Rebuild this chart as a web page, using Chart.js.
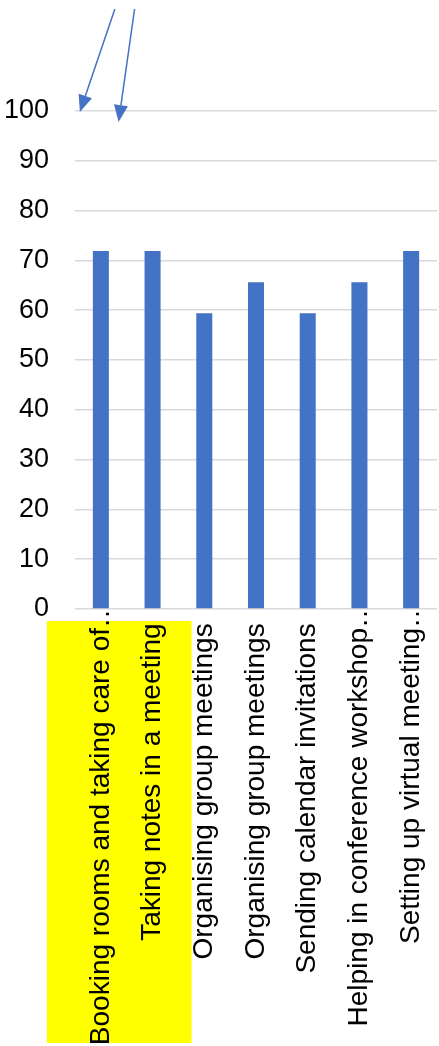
<!DOCTYPE html>
<html>
<head>
<meta charset="utf-8">
<script src="https://cdn.jsdelivr.net/npm/chart.js@4/dist/chart.umd.min.js"></script>
<style>
  html, body { margin: 0; padding: 0; background: #fff; }
  #wrap { width: 439px; height: 1046px; position: relative; }
</style>
</head>
<body>
<div id="wrap"><canvas id="c"></canvas></div>
<script>
const categories = [
  'Booking rooms and taking care of…',
  'Taking notes in a meeting',
  'Organising group meetings',
  'Organising group meetings',
  'Sending calendar invitations',
  'Helping in conference workshop…',
  'Setting up virtual meeting…'
];
const values = [71.875, 71.875, 59.375, 65.625, 59.375, 65.625, 71.875];
const yTicks = [0, 10, 20, 30, 40, 50, 60, 70, 80, 90, 100];
const highlighted = [0, 1];

const barBlue = '#4472C4';
const fontFamily = '"Liberation Sans", Arial, sans-serif';

// yellow box behind the highlighted category labels
const highlightBox = {
  id: 'highlightBox',
  beforeDraw(chart) {
    const { ctx } = chart;
    const x = chart.scales.x;
    const y = chart.scales.y;
    const first = x.getPixelForValue(highlighted[0]);
    const last = x.getPixelForValue(highlighted[highlighted.length - 1]);
    const top = y.bottom + 12;
    ctx.save();
    ctx.fillStyle = '#FFFF00';
    ctx.fillRect(first - 54, top, (last + 39) - (first - 54), chart.height - 3 - top);
    ctx.restore();
  },
};

// two arrows pointing down at the highlighted bars
const arrows = {
  id: 'arrows',
  afterDraw(chart) {
    const { ctx } = chart;
    const x = chart.scales.x;
    const y = chart.scales.y;
    const top100 = y.getPixelForValue(100);
    const a0 = x.getPixelForValue(highlighted[0]);
    const a1 = x.getPixelForValue(highlighted[1]);
    const list = [
      { from: [a0 + 14, 9], to: [a0 - 21, top100 + 1] },
      { from: [a1 - 18, 9], to: [a1 - 34, top100 + 11] },
    ];
    ctx.save();
    ctx.strokeStyle = barBlue;
    ctx.fillStyle = barBlue;
    ctx.lineWidth = 1.5;
    list.forEach(({ from, to }) => {
      const ang = Math.atan2(to[1] - from[1], to[0] - from[0]);
      const head = 17, half = 7;
      const bx = to[0] - head * Math.cos(ang);
      const by = to[1] - head * Math.sin(ang);
      ctx.beginPath();
      ctx.moveTo(from[0], from[1]);
      ctx.lineTo(bx, by);
      ctx.stroke();
      ctx.beginPath();
      ctx.moveTo(to[0], to[1]);
      ctx.lineTo(bx + half * Math.sin(ang), by - half * Math.cos(ang));
      ctx.lineTo(bx - half * Math.sin(ang), by + half * Math.cos(ang));
      ctx.closePath();
      ctx.fill();
    });
    ctx.restore();
  },
};

new Chart(document.getElementById('c').getContext('2d'), {
  type: 'bar',
  plugins: [highlightBox, arrows],
  data: {
    labels: categories,
    datasets: [{
      data: values,
      backgroundColor: barBlue,
      borderWidth: 0,
      barPercentage: 0.31,
      categoryPercentage: 1,
    }],
  },
  options: {
    responsive: true,
    maintainAspectRatio: false,
    animation: false,
    layout: { padding: { top: 111, right: 2, left: 0, bottom: 0 } },
    plugins: { legend: { display: false }, tooltip: { enabled: false } },
    scales: {
      x: {
        z: 1,
        grid: { display: false, drawTicks: false },
        border: { display: false },
        afterFit(scale) {
          scale.height = 437;
          scale.paddingLeft = 0;
          scale.paddingRight = 0;
        },
        ticks: {
          autoSkip: false,
          minRotation: 90,
          maxRotation: 90,
          padding: -9,
          color: '#000',
          font: { family: fontFamily, size: 28 },
          // truncated labels run up past the axis, full ones sit a little lower
          callback: (v, i) => {
            const s = categories[i];
            return s.endsWith('…') ? s : s + '   ';
          },
        },
      },
      y: {
        min: 0,
        max: 100,
        afterBuildTicks(scale) { scale.ticks = yTicks.map(v => ({ value: v })); },
        afterFit(scale) { scale.width = 75; },
        grid: { color: '#d9d9d9', lineWidth: 1.5, drawTicks: false },
        border: { display: false },
        ticks: {
          padding: 26,
          color: '#000',
          font: { family: fontFamily, size: 27 },
        },
      },
    },
  },
});
</script>
</body>
</html>
